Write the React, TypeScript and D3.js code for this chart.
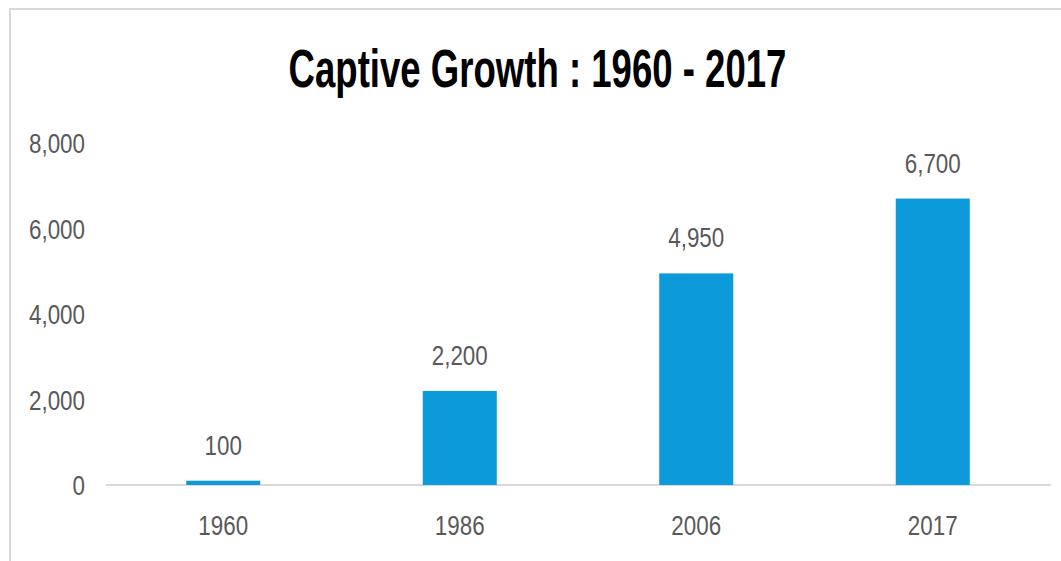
import React from "react";
import * as d3 from "d3";

const categories = ["1960", "1986", "2006", "2017"];
const values = [100, 2200, 4950, 6700];
const yTicks = [0, 2000, 4000, 6000, 8000];
const title = "Captive Growth : 1960 - 2017";

const W = 1061;
const H = 561;

export default function App() {
  const x = d3.scaleBand<string>().domain(categories).range([105, 1051]).paddingInner(0.687).paddingOuter(0.3435);
  const y = d3.scaleLinear().domain([0, 8000]).range([485, 143]);
  const fmt = d3.format(",");
  const font = "'Liberation Sans', Arial, sans-serif";
  const lblScale = 0.8;
  return (
    <svg width={W} height={H} style={{ position: "absolute", left: 0, top: 0 }} fontFamily={font}>
      <rect x={0} y={0} width={W} height={H} fill="#fff" />
      <rect x={10} y={9} width={W + 20} height={H + 20} fill="none" stroke="#d9d9d9" strokeWidth={2} />
      <text
        transform={`translate(${537.5},${87}) scale(0.69,1)`}
        textAnchor="middle"
        fontSize={53}
        fontWeight="bold"
        fill="#000"
      >
        {title}
      </text>
      {yTicks.map((t) => (
        <text
          key={t}
          transform={`translate(85,${y(t) + 10}) scale(${lblScale},1)`}
          textAnchor="end"
          fontSize={28}
          fill="#595959"
        >
          {fmt(t)}
        </text>
      ))}
      <line x1={106} x2={1051} y1={y(0)} y2={y(0)} stroke="#d9d9d9" strokeWidth={2} />
      {categories.map((c, i) => (
        <g key={c}>
          <rect
            x={x(c)}
            y={y(values[i])}
            width={x.bandwidth()}
            height={y(0) - y(values[i])}
            fill="#0c9adb"
          />
          <text
            transform={`translate(${(x(c) as number) + x.bandwidth() / 2},${y(values[i]) - 26}) scale(${lblScale},1)`}
            textAnchor="middle"
            fontSize={28}
            fill="#595959"
          >
            {fmt(values[i])}
          </text>
          <text
            transform={`translate(${(x(c) as number) + x.bandwidth() / 2},535) scale(${lblScale},1)`}
            textAnchor="middle"
            fontSize={28}
            fill="#595959"
          >
            {c}
          </text>
        </g>
      ))}
    </svg>
  );
}
